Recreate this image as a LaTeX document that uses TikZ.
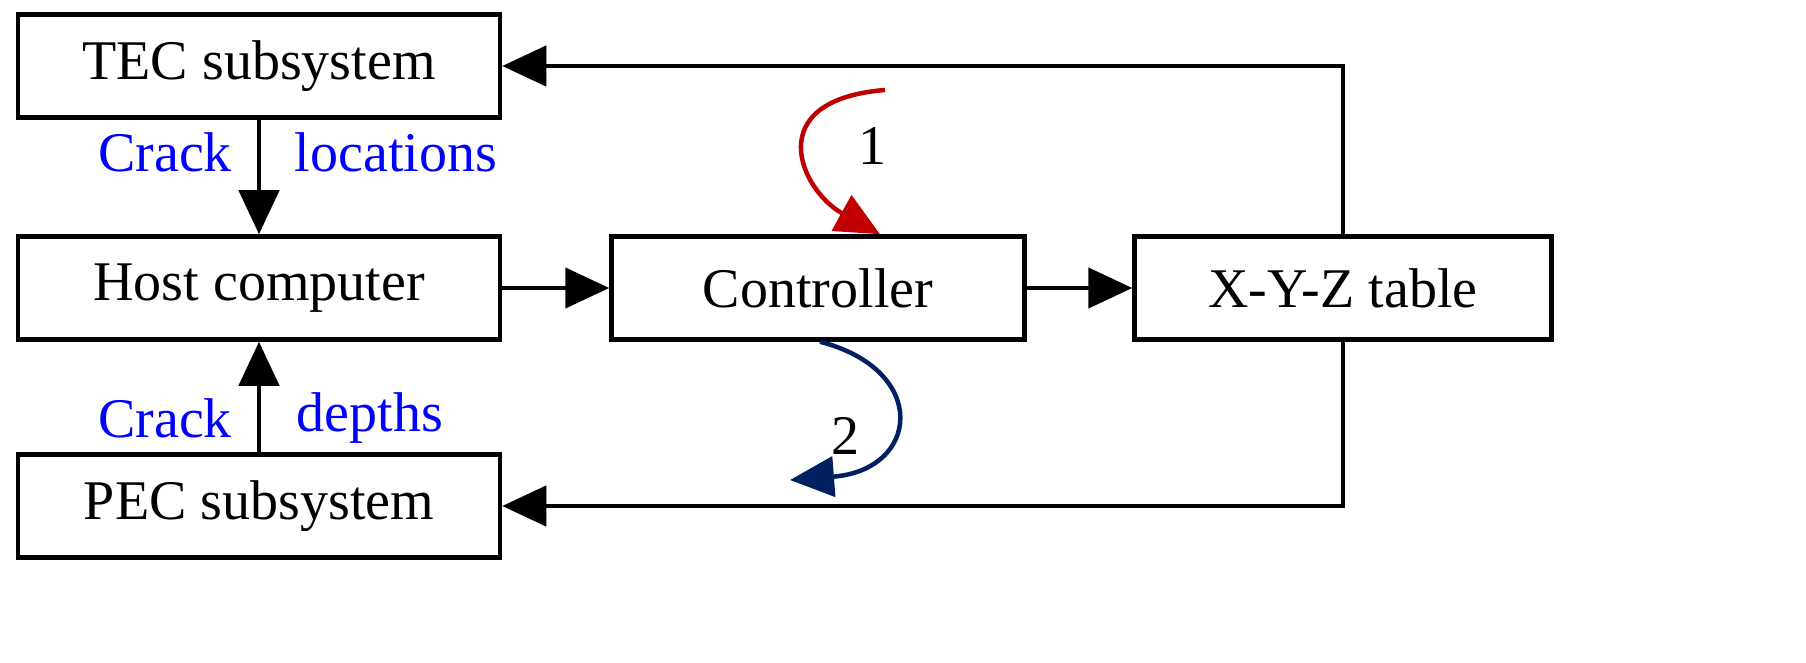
\documentclass[tikz,border=0pt]{standalone}
\usepackage{fontspec}
\setmainfont{Liberation Serif}
\usetikzlibrary{arrows.meta}
\tikzset{
  blk/.style={draw, line width=4.5pt, minimum width=482pt, minimum height=103pt, inner sep=0pt, font=\fontsize{56}{60}\selectfont},
  arr/.style={-{Triangle[length=44pt,width=40pt]}},
  lbl/.style={text=blue, font=\fontsize{56}{60}\selectfont},
}
\begin{document}
\begin{tikzpicture}[x=1pt,y=1pt,yscale=-1]
    \useasboundingbox (0,0) rectangle (1806,663);
    % Boxes
    \node[blk] (tec) at (259,66) {TEC subsystem};
    \node[blk] (host) at (259,288) {Host computer};
    \node[blk] (pec) at (259,506) {PEC subsystem};
    \node[blk, minimum width=413pt] (ctrl) at (818,288) {Controller};
    \node[blk, minimum width=417pt] (xyz) at (1343,288) {X-Y-Z table};
    % Connectors
    \begin{scope}[line width=4.5pt]
    \draw[arr] (tec) -- (host);
    \draw[arr] (pec) -- (host);
    \draw[arr] (host) -- (ctrl);
    \draw[arr] (ctrl) -- (xyz);
    \draw[arr] (xyz.north) |- (tec.east);
    \draw[arr] (xyz.south) |- (pec.east);
    % Curved arrows
    \coordinate (r0) at (885,90);
    \draw[draw={rgb,255:red,192;green,0;blue,0}, {Triangle[length=44pt,width=40pt]}-]
      (ctrl.north -| 880,0) .. controls (800,190) and (760,100) .. (r0);
    \coordinate (b0) at (820,340);
    \draw[arr, draw={rgb,255:red,0;green,32;blue,96}] (ctrl.south -| b0) .. controls (930,370) and (920,470) .. (790,480);
    \end{scope}
    \node[font=\fontsize{56}{60}\selectfont] (one) at (872,146) {1};
    \node[font=\fontsize{56}{60}\selectfont] (two) at (845,436) {2};
    % Labels
    \node[lbl] (c1) at (165,152) {Crack};
    \node[lbl] (loc) at (396,152) {locations};
    \node[lbl] (c2) at (165,418) {Crack};
    \node[lbl] (dep) at (370,418) {depths};
\end{tikzpicture}
\end{document}
